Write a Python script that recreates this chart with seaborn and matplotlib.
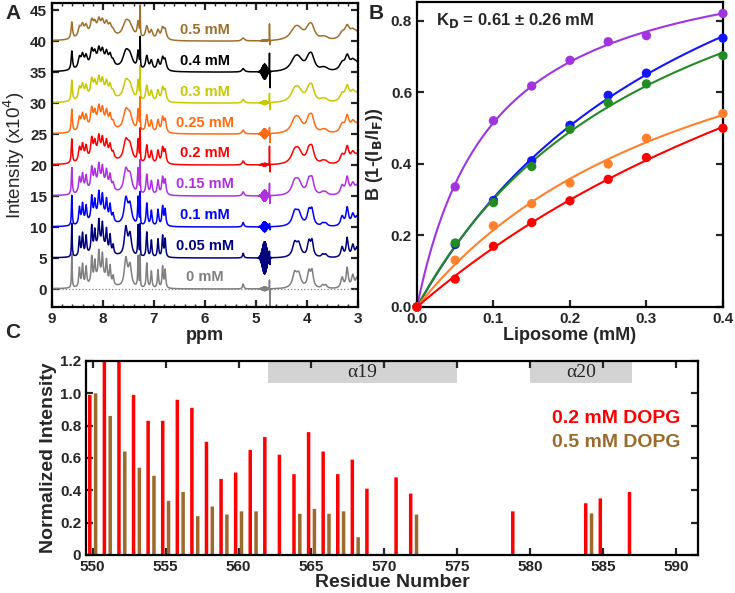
import numpy as np
import pandas as pd
import matplotlib
matplotlib.use("Agg")
import matplotlib.pyplot as plt
from matplotlib.patches import Rectangle
import seaborn as sns

# ---------------- Panel A: 1H spectra (peak list)
conc_labels = ['0 mM', '0.05 mM', '0.1 mM', '0.15 mM', '0.2 mM', '0.25 mM', '0.3 mM', '0.4 mM', '0.5 mM']
spec_colors = ['#808080', '#00007f', '#0000ff', '#b030e0', '#ff0000', '#ff6a10', '#c8c800', '#000000', '#a0702a']
spec_offset = [0, 5, 10, 15, 20, 25, 30, 35, 40]

peak_ppm = [8.61, 8.46, 8.40, 8.33, 8.22, 8.16, 8.08, 8.01, 7.93, 7.86, 7.80, 8.05,
            7.55, 7.47, 7.31, 7.14, 7.05, 6.92, 6.83, 6.78,
            5.25, 4.24, 4.16, 3.96, 3.90, 3.69, 3.63, 3.31, 3.21, 3.10, 3.02]
peak_height = [5.4, 3.0, 3.5, 3.0, 4.2, 3.0, 3.9, 3.5, 3.3, 2.8, 1.4, 2.2,
               4.5, 3.4, 5.0, 4.0, 2.7, 2.9, 3.4, 2.9,
               0.8, 2.3, 2.1, 2.5, 2.5, 0.5, 0.5, 1.7, 3.2, 2.0, 1.6]
peak_width = [0.008, 0.015, 0.015, 0.015, 0.015, 0.015, 0.015, 0.015, 0.015, 0.015, 0.015, 0.14,
              0.035, 0.035, 0.01, 0.014, 0.014, 0.014, 0.014, 0.014,
              0.015, 0.05, 0.05, 0.035, 0.03, 0.03, 0.03, 0.03, 0.025, 0.03, 0.03]

# per-spectrum intensity loss / line broadening
arom_scale = [1.0, 1.0, 0.9, 0.8, 0.72, 0.68, 0.62, 0.56, 0.5]
aliph_scale = [1.0, 0.95, 0.9, 0.85, 0.8, 0.78, 0.72, 0.68, 0.6]
broadening = [1.0, 1.0, 1.2, 1.4, 1.6, 1.7, 1.8, 2.0, 2.2]
solvent_ppm = 7.27
solvent_height = [5.0, 5.0, 5.0, 5.0, 5.0, 5.0, 5.0, 4.6, 4.6]

# water region artefacts at ~4.7 ppm
spike_up = [1.5, 1.0, 0.5, 2.0, 3.0, 1.0, 1.5, 3.0, 2.7]
spike_down = [3.0, 1.0, 0.5, 1.3, 1.3, 1.5, 1.2, 2.7, 0.8]
blob_amp = [0.3, 2.6, 0.8, 0.9, 0.2, 0.8, 0.3, 1.2, 0.1]

# ---------------- Panel B: binding curves
liposome = [0, 0.05, 0.1, 0.15, 0.2, 0.25, 0.3, 0.4]
b_purple = [0, 0.336, 0.521, 0.618, 0.690, 0.742, 0.759, 0.821]
b_blue = [0, 0.175, 0.298, 0.409, 0.508, 0.592, 0.654, 0.752]
b_green = [0, 0.179, 0.292, 0.393, 0.497, 0.571, 0.624, 0.703]
b_orange = [0, 0.131, 0.227, 0.289, 0.347, 0.400, 0.472, 0.541]
b_red = [0, 0.078, 0.170, 0.236, 0.297, 0.357, 0.418, 0.500]

# ---------------- Panel C: normalized intensities per residue
res_02 = [550, 551, 552, 553, 554, 555, 556, 557, 558, 559, 560, 561, 562, 563, 564,
          565, 566, 567, 568, 569, 571, 572, 579, 584, 585, 587]
int_02 = [0.99, 1.3, 1.3, 0.99, 0.83, 0.83, 0.96, 0.91, 0.70, 0.47, 0.51, 0.65, 0.73, 0.62, 0.50,
          0.76, 0.64, 0.50, 0.59, 0.41, 0.48, 0.38, 0.27, 0.32, 0.35, 0.39]
res_05 = [550, 551, 552, 553, 554, 555, 556, 557, 558, 559, 560, 561,
          564, 565, 566, 567, 568, 572, 584]
int_05 = [1.0, 0.86, 0.64, 0.54, 0.49, 0.335, 0.39, 0.24, 0.30, 0.25, 0.27, 0.27,
          0.255, 0.285, 0.255, 0.27, 0.11, 0.25, 0.257]
helix_names = ['\u03b119', '\u03b120']
helix_start = [562, 580]
helix_end = [575, 587]

sns.set_theme(style="ticks")
plt.rcParams['font.family'] = ['Liberation Sans', 'DejaVu Sans']
plt.rcParams['axes.linewidth'] = 1.6
plt.rcParams['xtick.direction'] = 'in'
plt.rcParams['ytick.direction'] = 'in'
plt.rcParams['xtick.major.width'] = 1.6
plt.rcParams['ytick.major.width'] = 1.6
plt.rcParams['xtick.major.size'] = 5
plt.rcParams['ytick.major.size'] = 5
plt.rcParams['xtick.minor.size'] = 2.5
plt.rcParams['xtick.minor.width'] = 1.0

fig = plt.figure(figsize=(7.35, 5.93), dpi=100)
axA = fig.add_axes([0.0707, 0.4823, 0.4163, 0.5126])
axB = fig.add_axes([0.5673, 0.4823, 0.4163, 0.5143])
axC = fig.add_axes([0.117, 0.0641, 0.8327, 0.3272])

tick_font = dict(fontsize=11, fontweight='bold')


def lorentz(x, p, h, w):
    return h * w ** 2 / ((x - p) ** 2 + w ** 2)


# ---------------- A
ppm = np.linspace(3.0, 9.0, 6001)
axA.axhline(0, color='#808080', ls=':', lw=0.9)
for i in range(len(conc_labels)):
    y = np.zeros_like(ppm)
    for p, h, w in zip(peak_ppm, peak_height, peak_width):
        s = arom_scale[i] if p > 6 else aliph_scale[i]
        y += lorentz(ppm, p, h * s, w * broadening[i])
    y += lorentz(ppm, solvent_ppm, solvent_height[i], 0.004)
    y += lorentz(ppm, 4.735, spike_up[i], 0.002) - lorentz(ppm, 4.725, spike_down[i], 0.002)
    y += blob_amp[i] * np.exp(-((ppm - 4.83) / 0.06) ** 2) * np.cos(2 * np.pi * (ppm - 4.83) / 0.006)
    df = pd.DataFrame({'ppm': ppm, 'I': y + spec_offset[i]})
    sns.lineplot(data=df, x='ppm', y='I', color=spec_colors[i], lw=1.1, ax=axA,
                 estimator=None, sort=False)
    axA.text(6.0, spec_offset[i] + 1.9, conc_labels[i], color=spec_colors[i],
             ha='center', va='center', fontsize=10.5, fontweight='bold')

axA.set_xlim(9, 3)
axA.set_ylim(-2.9, 46.2)
axA.set_xticks([9, 8, 7, 6, 5, 4, 3])
axA.set_xticks(np.arange(3, 9.01, 0.2), minor=True)
axA.set_yticks(range(0, 46, 5))
axA.tick_params(top=True, right=True, which='both')
axA.set_xticklabels(['9', '8', '7', '6', '5', '4', '3'], **tick_font)
axA.set_yticklabels([str(v) for v in range(0, 46, 5)], **tick_font)
axA.set_xlabel('ppm', fontsize=13, fontweight='bold', labelpad=1)
axA.set_ylabel('Intensity (x10$^{4}$)', fontsize=13.5, labelpad=2)

# ---------------- B
b_series = [b_purple, b_blue, b_green, b_orange, b_red]
b_colors = ['#a035e0', '#1515ff', '#228b22', '#ff7f2a', '#ff0000']
xfit = np.linspace(0, 0.4, 200)
kd_grid = np.linspace(0.01, 5, 4000)
x_arr = np.array(liposome)
for vals, c in zip(b_series, b_colors):
    y_arr = np.array(vals)
    best = None
    for kd in kd_grid:
        f = x_arr / (kd + x_arr)
        bmax = f.dot(y_arr) / f.dot(f)
        sse = ((bmax * f - y_arr) ** 2).sum()
        if best is None or sse < best[0]:
            best = (sse, kd, bmax)
    fit = best[2] * xfit / (best[1] + xfit)
    sns.lineplot(x=xfit, y=fit, color=c, lw=1.5, ax=axB, estimator=None, sort=False)
    sns.scatterplot(x=liposome, y=vals, color=c, s=45, edgecolor='none', ax=axB,
                    clip_on=False, zorder=3)

axB.set_xlim(0, 0.4)
axB.set_ylim(0, 0.853)
axB.set_xticks([0, 0.1, 0.2, 0.3, 0.4])
axB.set_yticks([0, 0.2, 0.4, 0.6, 0.8])
axB.set_xticklabels(['0.0', '0.1', '0.2', '0.3', '0.4'], **tick_font)
axB.set_yticklabels(['0.0', '0.2', '0.4', '0.6', '0.8'], **tick_font)
axB.tick_params(right=True)
axB.set_xlabel('Liposome (mM)', fontsize=13, fontweight='bold', labelpad=1)
axB.set_ylabel('B (1-(I$_\\mathbf{B}$/I$_\\mathbf{F}$))', fontsize=13, fontweight='bold', labelpad=4)
axB.text(0.025, 0.8, 'K$_\\mathbf{D}$ = 0.61 \u00b1 0.26 mM', fontsize=12, fontweight='bold',
         va='center', ha='left')

# ---------------- C
bars_02 = axC.bar(np.array(res_02) - 0.2, int_02, width=0.24, color='#ff0000', linewidth=0)
bars_05 = axC.bar(np.array(res_05) + 0.2, int_05, width=0.24, color='#9c6a2c', linewidth=0)
for patch in list(bars_02) + list(bars_05):
    patch.set_snap(False)
for name, a, b in zip(helix_names, helix_start, helix_end):
    axC.add_patch(Rectangle((a, 1.065), b - a, 0.135, facecolor='#d3d3d3',
                            edgecolor='none', zorder=0.5))
    axC.text((a + b) / 2, 1.13, name, ha='center', va='center', fontsize=14,
             family=['Liberation Serif', 'DejaVu Serif'])
axC.set_xlim(549.54, 591.5)
axC.set_ylim(0, 1.2)
axC.set_xticks(range(550, 591, 5))
axC.set_xticklabels([str(v) for v in range(550, 591, 5)], **tick_font)
axC.set_yticks([0, 0.2, 0.4, 0.6, 0.8, 1.0, 1.2])
axC.set_yticklabels(['0', '0.2', '0.4', '0.6', '0.8', '1.0', '1.2'], **tick_font)
axC.tick_params(top=True, right=True)
axC.set_xlabel('Residue Number', fontsize=14, fontweight='bold', labelpad=0)
axC.set_ylabel('Normalized Intensity', fontsize=14, fontweight='bold', labelpad=2)
axC.text(590.3, 0.845, '0.2 mM DOPG', color='#ff0000', ha='right', va='center',
         fontsize=14, fontweight='bold')
axC.text(590.3, 0.695, '0.5 mM DOPG', color='#9c6a2c', ha='right', va='center',
         fontsize=14, fontweight='bold')

for ax in (axA, axB, axC):
    for sp in ax.spines.values():
        sp.set_visible(True)
        sp.set_color('black')

fig.text(0.007, 0.978, 'A', fontsize=15, fontweight='bold', va='center')
fig.text(0.502, 0.978, 'B', fontsize=15, fontweight='bold', va='center')
fig.text(0.007, 0.44, 'C', fontsize=15, fontweight='bold', va='center')

fig.savefig('out.png', dpi=100)
